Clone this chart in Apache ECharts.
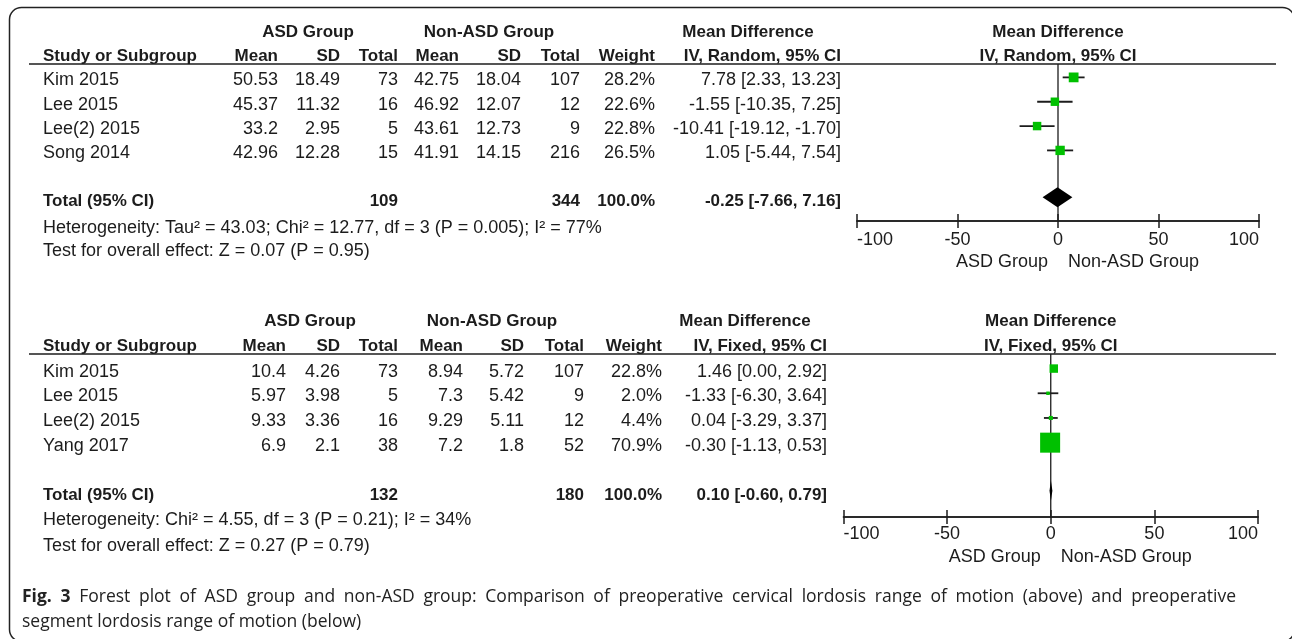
<!DOCTYPE html>
<html><head><meta charset="utf-8">
<script src="https://cdn.jsdelivr.net/npm/echarts@6/dist/echarts.min.js"></script>
<style>html,body{margin:0;padding:0;background:#fff}#c{width:1292px;height:639px}</style>
</head><body><div id="c"></div>
<script>
// ---------------- DATA ----------------
const xTicks = [-100, -50, 0, 50, 100];
const groupLabels = ['ASD Group', 'Non-ASD Group'];

// Panel A: cervical lordosis ROM (random effects)
const studiesA  = ['Kim 2015', 'Lee 2015', 'Lee(2) 2015', 'Song 2014'];
const asdMeanA  = [50.53, 45.37, 33.2, 42.96];
const asdSdA    = [18.49, 11.32, 2.95, 12.28];
const asdNA     = [73, 16, 5, 15];
const nonMeanA  = [42.75, 46.92, 43.61, 41.91];
const nonSdA    = [18.04, 12.07, 12.73, 14.15];
const nonNA     = [107, 12, 9, 216];
const weightA   = [28.2, 22.6, 22.8, 26.5];
const mdA       = [7.78, -1.55, -10.41, 1.05];
const lowA      = [2.33, -10.35, -19.12, -5.44];
const highA     = [13.23, 7.25, -1.70, 7.54];
const totalA    = { asdN: 109, nonN: 344, weight: 100.0, md: -0.25, low: -7.66, high: 7.16 };
const methodA   = 'IV, Random, 95% CI';
const hetA      = 'Heterogeneity: Tau\u00b2 = 43.03; Chi\u00b2 = 12.77, df = 3 (P = 0.005); I\u00b2 = 77%';
const testA     = 'Test for overall effect: Z = 0.07 (P = 0.95)';

// Panel B: segment lordosis ROM (fixed effects)
const studiesB  = ['Kim 2015', 'Lee 2015', 'Lee(2) 2015', 'Yang 2017'];
const asdMeanB  = [10.4, 5.97, 9.33, 6.9];
const asdSdB    = [4.26, 3.98, 3.36, 2.1];
const asdNB     = [73, 5, 16, 38];
const nonMeanB  = [8.94, 7.3, 9.29, 7.2];
const nonSdB    = [5.72, 5.42, 5.11, 1.8];
const nonNB     = [107, 9, 12, 52];
const weightB   = [22.8, 2.0, 4.4, 70.9];
const mdB       = [1.46, -1.33, 0.04, -0.30];
const lowB      = [0.00, -6.30, -3.29, -1.13];
const highB     = [2.92, 3.64, 3.37, 0.53];
const totalB    = { asdN: 132, nonN: 180, weight: 100.0, md: 0.10, low: -0.60, high: 0.79 };
const methodB   = 'IV, Fixed, 95% CI';
const hetB      = 'Heterogeneity: Chi\u00b2 = 4.55, df = 3 (P = 0.21); I\u00b2 = 34%';
const testB     = 'Test for overall effect: Z = 0.27 (P = 0.79)';

const captionBold  = 'Fig. 3';
const captionLine1 = 'Forest plot of ASD group and non-ASD group: Comparison of preoperative cervical lordosis range of motion (above) and preoperative';
const captionLine2 = 'segment lordosis range of motion (below)';

// ---------------- LAYOUT / STYLE ----------------
const FONT = '"Liberation Sans", Arial, sans-serif';
const FS_R = 18, FS_B = 17;
const INK = '#1c1c1c';
const GREEN = '#00c000';
const TEXT_DY = 3;
const CAP_FONT = '"Open Sans", sans-serif';
const CAP_FS = 17.5;
const CAP_LEFT = 22, CAP_RIGHT = 1236;

const panels = [
  { d: { studies: studiesA, m1: asdMeanA, s1: asdSdA, n1: asdNA, m2: nonMeanA, s2: nonSdA, n2: nonNA,
         w: weightA, md: mdA, lo: lowA, hi: highA, tot: totalA, method: methodA, het: hetA, test: testA },
    grid: { left: 857, width: 402, top: 64, height: 157 }, yMin: -0.55, yMax: 5.9, totalRow: 4.92,
    cols: { study: 43, m1: 278, s1: 340, n1: 398, m2: 459, s2: 521, n2: 580, w: 655, ci: 841 },
    head: { asd: 308, non: 489, md: 748 }, head1Y: 32, head2Y: 56.5, lineY: 64,
    hetY: 228, testY: 251.5, groupY: 262, tickLabelMargin: 10 },
  { d: { studies: studiesB, m1: asdMeanB, s1: asdSdB, n1: asdNB, m2: nonMeanB, s2: nonSdB, n2: nonNB,
         w: weightB, md: mdB, lo: lowB, hi: highB, tot: totalB, method: methodB, het: hetB, test: testB },
    grid: { left: 843.5, width: 414.5, top: 354, height: 163 }, yMin: -0.59, yMax: 6.01, totalRow: 4.95,
    cols: { study: 43, m1: 286, s1: 340, n1: 398, m2: 463, s2: 524, n2: 584, w: 662, ci: 827 },
    head: { asd: 310, non: 492, md: 745 }, head1Y: 321, head2Y: 346, lineY: 354,
    hetY: 520, testY: 546, groupY: 557, tickLabelMargin: 8 }
];

const fmtCI = (m, l, h) => m.toFixed(2) + ' [' + l.toFixed(2) + ', ' + h.toFixed(2) + ']';
const font = (bold) => (bold ? 'bold ' + FS_B : FS_R) + 'px ' + FONT;

function txt(text, x, y, align, bold) {
  return { type: 'text', x: x, y: y, silent: true,
    style: { text: text, font: font(bold), fill: INK, align: align || 'left', verticalAlign: 'middle' } };
}

const grids = [], xAxes = [], yAxes = [], series = [], graphics = [];

panels.forEach((p, pi) => {
  const d = p.d, c = p.cols;
  grids.push(p.grid);
  const baseX = { gridIndex: pi, type: 'value', min: xTicks[0], max: xTicks[xTicks.length - 1],
    interval: xTicks[1] - xTicks[0], position: 'bottom', splitLine: { show: false },
    axisLine: { show: true, onZero: false, lineStyle: { color: INK, width: 1.5 } } };
  xAxes.push(Object.assign({}, baseX, {
    axisTick: { show: true, inside: false, length: 7, lineStyle: { color: INK, width: 1.5 } },
    axisLabel: { show: true, color: INK, fontFamily: FONT, fontSize: FS_R, margin: p.tickLabelMargin,
      alignMinLabel: 'left', alignMaxLabel: 'right', formatter: v => String(v) } }));
  xAxes.push(Object.assign({}, baseX, {
    axisTick: { show: true, inside: true, length: 7, lineStyle: { color: INK, width: 1.5 } },
    axisLabel: { show: false } }));
  yAxes.push({ gridIndex: pi, type: 'value', inverse: true, min: p.yMin, max: p.yMax, show: false });

  const xi = pi * 2, yi = pi;
  // zero line
  series.push({ type: 'line', xAxisIndex: xi, yAxisIndex: yi, symbol: 'none', silent: true, z: 1,
    data: [[0, p.yMin], [0, p.yMax]], lineStyle: { color: INK, width: 1.3 } });
  // CI whiskers
  series.push({ type: 'custom', xAxisIndex: xi, yAxisIndex: yi, silent: true, z: 2,
    data: d.md.map((m, i) => [i, d.lo[i], d.hi[i]]),
    renderItem: (params, api) => {
      const a = api.coord([api.value(1), api.value(0)]);
      const b = api.coord([api.value(2), api.value(0)]);
      return { type: 'line', shape: { x1: a[0], y1: a[1], x2: b[0], y2: b[1] },
        style: { stroke: INK, lineWidth: 1.8 } };
    } });
  // squares sized by weight
  series.push({ type: 'scatter', xAxisIndex: xi, yAxisIndex: yi, silent: true, z: 3,
    symbol: 'rect', symbolSize: v => 3 + 0.24 * v[2],
    itemStyle: { color: GREEN, opacity: 1 },
    data: d.md.map((m, i) => [m, i, d.w[i]]) });
  // pooled diamond
  series.push({ type: 'custom', xAxisIndex: xi, yAxisIndex: yi, silent: true, z: 4,
    data: [[d.tot.low, d.tot.md, d.tot.high, p.totalRow]],
    renderItem: (params, api) => {
      const r = api.value(3);
      const l = api.coord([api.value(0), r]), m = api.coord([api.value(1), r]), h = api.coord([api.value(2), r]);
      const hh = 10;
      return { type: 'polygon', shape: { points: [[l[0], l[1]], [m[0], m[1] - hh], [h[0], h[1]], [m[0], m[1] + hh]] },
        style: { fill: '#000' } };
    } });
  // table text rows
  series.push({ type: 'custom', xAxisIndex: xi, yAxisIndex: yi, silent: true, z: 5, clip: false,
    data: d.studies.map((s, i) => [0, i]),
    renderItem: (params, api) => {
      const i = params.dataIndex;
      const y = api.coord([0, api.value(1)])[1] + TEXT_DY;
      return { type: 'group', children: [
        txt(d.studies[i], c.study, y, 'left'),
        txt(String(d.m1[i]), c.m1, y, 'right'),
        txt(String(d.s1[i]), c.s1, y, 'right'),
        txt(String(d.n1[i]), c.n1, y, 'right'),
        txt(String(d.m2[i]), c.m2, y, 'right'),
        txt(String(d.s2[i]), c.s2, y, 'right'),
        txt(String(d.n2[i]), c.n2, y, 'right'),
        txt(d.w[i].toFixed(1) + '%', c.w, y, 'right'),
        txt(fmtCI(d.md[i], d.lo[i], d.hi[i]), c.ci, y, 'right')
      ] };
    } });
  // total row text
  series.push({ type: 'custom', xAxisIndex: xi, yAxisIndex: yi, silent: true, z: 5, clip: false,
    data: [[0, p.totalRow]],
    renderItem: (params, api) => {
      const y = api.coord([0, api.value(1)])[1] + TEXT_DY + 1;
      return { type: 'group', children: [
        txt('Total (95% CI)', c.study, y, 'left', true),
        txt(String(d.tot.asdN), c.n1, y, 'right', true),
        txt(String(d.tot.nonN), c.n2, y, 'right', true),
        txt(d.tot.weight.toFixed(1) + '%', c.w, y, 'right', true),
        txt(fmtCI(d.tot.md, d.tot.low, d.tot.high), c.ci, y, 'right', true)
      ] };
    } });

  // headers & footers (graphic)
  const zeroX = p.grid.left + p.grid.width / 2;
  graphics.push(
    txt('ASD Group', p.head.asd, p.head1Y, 'center', true),
    txt('Non-ASD Group', p.head.non, p.head1Y, 'center', true),
    txt('Mean Difference', p.head.md, p.head1Y, 'center', true),
    txt('Mean Difference', zeroX, p.head1Y, 'center', true),
    txt('Study or Subgroup', c.study, p.head2Y, 'left', true),
    txt('Mean', c.m1, p.head2Y, 'right', true),
    txt('SD', c.s1, p.head2Y, 'right', true),
    txt('Total', c.n1, p.head2Y, 'right', true),
    txt('Mean', c.m2, p.head2Y, 'right', true),
    txt('SD', c.s2, p.head2Y, 'right', true),
    txt('Total', c.n2, p.head2Y, 'right', true),
    txt('Weight', c.w, p.head2Y, 'right', true),
    txt(d.method, c.ci, p.head2Y, 'right', true),
    txt(d.method, zeroX, p.head2Y, 'center', true),
    { type: 'line', silent: true, shape: { x1: 29, y1: p.lineY, x2: 1276, y2: p.lineY },
      style: { stroke: INK, lineWidth: 1.5 } },
    txt(d.het, c.study, p.hetY, 'left'),
    txt(d.test, c.study, p.testY, 'left'),
    txt(groupLabels[0], zeroX - 10, p.groupY, 'right'),
    txt(groupLabels[1], zeroX + 10, p.groupY, 'left')
  );
});

// frame
graphics.push(
  { type: 'rect', silent: true, shape: { x: 9.5, y: 7.5, width: 1285, height: 634, r: 12 },
    style: { fill: null, stroke: '#222', lineWidth: 1.5 } });

// caption: first line justified between CAP_LEFT and CAP_RIGHT
(function () {
  const ctx = document.createElement('canvas').getContext('2d');
  const fB = 'bold ' + CAP_FS + 'px ' + CAP_FONT, fR = CAP_FS + 'px ' + CAP_FONT;
  const tokens = captionBold.split(' ').map(t => ({ t: t, f: fB }))
    .concat(captionLine1.split(' ').map(t => ({ t: t, f: fR })));
  let total = 0;
  tokens.forEach(k => { ctx.font = k.f; k.w = ctx.measureText(k.t).width; total += k.w; });
  const gap = (CAP_RIGHT - CAP_LEFT - total) / (tokens.length - 1);
  let x = CAP_LEFT;
  tokens.forEach(k => {
    graphics.push({ type: 'text', silent: true, x: x, y: 597,
      style: { text: k.t, font: k.f, fill: '#222', verticalAlign: 'middle' } });
    x += k.w + gap;
  });
  graphics.push({ type: 'text', silent: true, x: CAP_LEFT, y: 622,
    style: { text: captionLine2, font: fR, fill: '#222', verticalAlign: 'middle' } });
})();

const chart = echarts.init(document.getElementById('c'), null, { renderer: 'canvas' });
chart.setOption({
  animation: false,
  backgroundColor: '#fff',
  grid: grids, xAxis: xAxes, yAxis: yAxes, series: series, graphic: graphics
});
</script></body></html>
